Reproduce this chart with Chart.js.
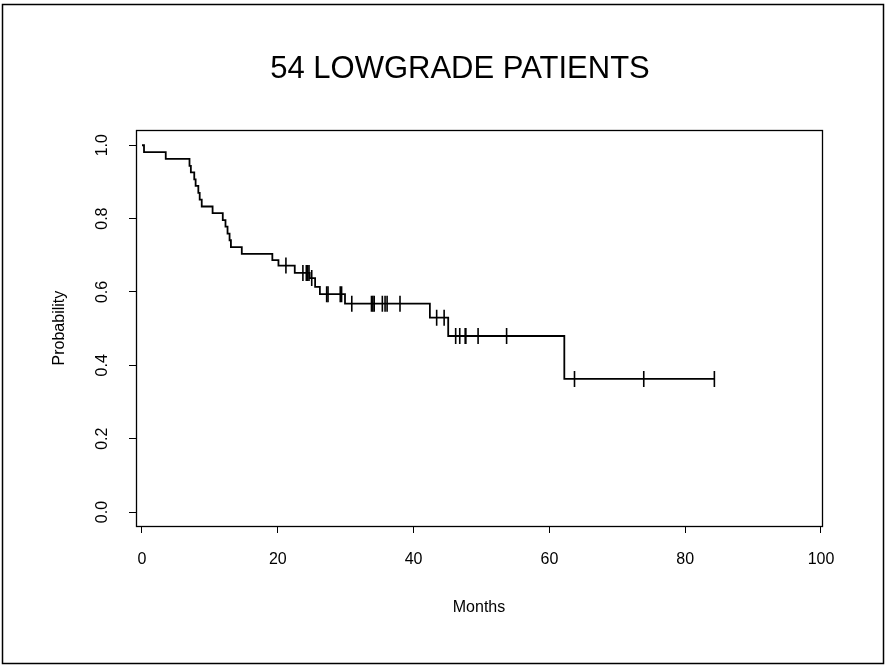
<!DOCTYPE html>
<html>
<head>
<meta charset="utf-8">
<script src="https://cdn.jsdelivr.net/npm/chart.js@4/dist/chart.umd.min.js"></script>
<style>
  html, body { margin: 0; padding: 0; background: #ffffff; }
  #wrap { width: 886px; height: 667px; position: relative; }
</style>
</head>
<body>
<div id="wrap"><canvas id="c" width="886" height="667"></canvas></div>
<script>
// ---- data ----
const chartTitle = '54 LOWGRADE PATIENTS';
const xAxisTitle = 'Months';
const yAxisTitle = 'Probability';

// Kaplan-Meier step points: time (months) and survival after the drop
const eventTimes = [0, 0.3, 3.5, 7.0, 7.2, 7.7, 7.9, 8.3, 8.5, 8.8, 10.4, 11.9, 12.3, 12.6, 12.9, 13.1, 14.7, 19.2, 20.1, 22.5, 24.7, 25.5, 26.2, 29.9, 42.4, 45.1, 62.2];
const survival   = [1.0, 0.981, 0.963, 0.944, 0.926, 0.907, 0.889, 0.870, 0.852, 0.833, 0.815, 0.796, 0.778, 0.759, 0.741, 0.722, 0.704, 0.687, 0.672, 0.652, 0.638, 0.614, 0.594, 0.568, 0.530, 0.480, 0.363];
const lastFollowUp = 84.3;

// censoring marks (months)
const censorTimes = [21.2, 23.7, 24.2, 24.4, 24.6, 25.0, 27.2, 27.4, 29.2, 29.4, 30.9, 33.8, 34.0, 34.2, 35.4, 35.8, 36.1, 38.0, 43.4, 44.5, 46.2, 46.8, 47.6, 47.7, 49.5, 53.7, 63.7, 73.9, 84.3];

const xTickValues = [0, 20, 40, 60, 80, 100];
const xTickLabels = ['0', '20', '40', '60', '80', '100'];
const yTickValues = [0, 0.2, 0.4, 0.6, 0.8, 1.0];
const yTickLabels = ['0.0', '0.2', '0.4', '0.6', '0.8', '1.0'];

// ---- build datasets ----
const kmPoints = eventTimes.map((t, i) => ({ x: t, y: survival[i] }));
kmPoints.push({ x: lastFollowUp, y: survival[survival.length - 1] });

function survivalAt(t) {
  let s = survival[0];
  for (let i = 0; i < eventTimes.length; i++) {
    if (eventTimes[i] <= t) s = survival[i];
  }
  return s;
}
const censorPoints = censorTimes.map(t => ({ x: t, y: survivalAt(t) }));

const FONT = "'Liberation Sans', Arial, Helvetica, sans-serif";

const framePlugin = {
  id: 'frame',
  beforeDraw(chart) {
    const ctx = chart.ctx;
    ctx.save();
    ctx.fillStyle = '#ffffff';
    ctx.fillRect(0, 0, chart.width, chart.height);
    ctx.restore();
  },
  afterDraw(chart) {
    const ctx = chart.ctx;
    const a = chart.chartArea;
    ctx.save();
    ctx.strokeStyle = '#000000';
    ctx.lineWidth = 1.3;
    ctx.strokeRect(Math.round(a.left) + 0.5, Math.round(a.top) + 0.5,
                   Math.round(a.right - a.left), Math.round(a.bottom - a.top));
    ctx.lineWidth = 1.5;
    ctx.strokeRect(2.5, 4.5, 881, 659);
    ctx.restore();
  }
};

new Chart(document.getElementById('c'), {
  type: 'line',
  data: {
    datasets: [
      {
        label: 'Survival',
        data: kmPoints,
        stepped: 'before',
        borderColor: '#000000',
        borderWidth: 1.8,
        pointRadius: 0,
        fill: false,
        tension: 0,
        xAxisID: 'x',
        yAxisID: 'y'
      },
      {
        type: 'scatter',
        label: 'Censored',
        data: censorPoints,
        showLine: false,
        pointStyle: 'line',
        rotation: 90,
        pointRadius: 8,
        pointBorderWidth: 1.6,
        borderColor: '#000000',
        backgroundColor: '#000000',
        xAxisID: 'x',
        yAxisID: 'y'
      }
    ]
  },
  options: {
    responsive: false,
    animation: false,
    devicePixelRatio: 1,
    layout: { padding: { left: 34, right: 0, top: 0, bottom: 0 } },
    plugins: {
      legend: { display: false },
      tooltip: { enabled: false },
      title: {
        display: true,
        text: chartTitle,
        color: '#000000',
        font: { family: FONT, size: 31, weight: 'normal', lineHeight: 1.2 },
        padding: { top: 51, bottom: 42 },
        fullSize: true
      }
    },
    scales: {
      x: {
        type: 'linear',
        position: 'bottom',
        min: -0.88,
        max: 100.15,
        afterBuildTicks: s => { s.ticks = xTickValues.map(v => ({ value: v })); },
        afterFit: s => { s.height = 141; },
        ticks: {
          color: '#000000',
          font: { family: FONT, size: 16 },
          padding: 17,
          maxRotation: 0,
          autoSkip: false,
          callback: (v) => { const i = xTickValues.indexOf(v); return i >= 0 ? xTickLabels[i] : ''; }
        },
        grid: { display: true, drawOnChartArea: false, drawTicks: true, tickLength: 7, color: '#000000', lineWidth: 1 },
        border: { display: true, color: '#000000', width: 1 },
        title: {
          display: true,
          text: xAxisTitle,
          color: '#000000',
          font: { family: FONT, size: 16 },
          padding: { top: 0, bottom: 50 }
        }
      },
      y: {
        type: 'linear',
        position: 'left',
        min: -0.038,
        max: 1.041,
        afterBuildTicks: s => { s.ticks = yTickValues.map(v => ({ value: v })); },
        afterFit: s => { s.width = 102; },
        ticks: {
          color: '#000000',
          font: { family: FONT, size: 16 },
          padding: 15,
          minRotation: 90,
          maxRotation: 90,
          crossAlign: 'center',
          autoSkip: false,
          callback: (v) => { const i = yTickValues.findIndex(t => Math.abs(t - v) < 1e-9); return i >= 0 ? yTickLabels[i] : ''; }
        },
        grid: { display: true, drawOnChartArea: false, drawTicks: true, tickLength: 7, color: '#000000', lineWidth: 1 },
        border: { display: true, color: '#000000', width: 1 },
        title: {
          display: true,
          text: yAxisTitle,
          color: '#000000',
          font: { family: FONT, size: 16 },
          padding: { top: 16, bottom: 0 }
        }
      },
      yRight: {
        type: 'linear',
        position: 'right',
        display: true,
        afterFit: s => { s.width = 64; },
        ticks: { display: false },
        grid: { display: false, drawTicks: false },
        border: { display: false },
        title: { display: false }
      }
    }
  },
  plugins: [framePlugin]
});
</script>
</body>
</html>
